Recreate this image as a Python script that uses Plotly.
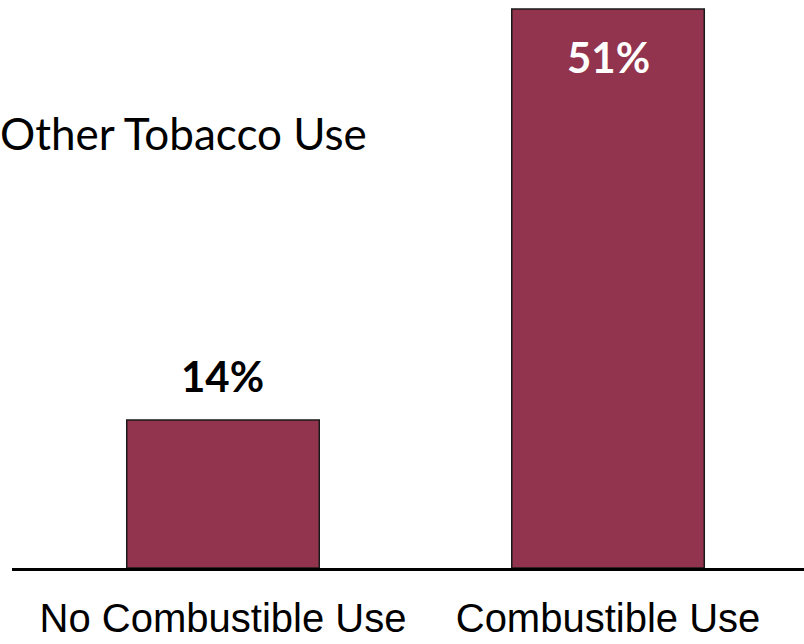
import plotly.graph_objects as go

categories = ["No Combustible Use", "Combustible Use"]
values = [13.6, 51.4]
value_labels = ["14%", "51%"]
title_text = "Other Tobacco Use"

bar_color = "#93344E"

fig = go.Figure()
fig.add_trace(go.Bar(
    x=categories, y=values,
    width=0.5,
    marker=dict(color=bar_color, line=dict(color="#1a1a1a", width=1.5)),
    hoverinfo="skip",
))

fig.add_annotation(x=categories[0], y=values[0], text="<b>" + value_labels[0] + "</b>",
                   showarrow=False, yanchor="bottom", yshift=17,
                   font=dict(family="Lato, Noto Sans, sans-serif", size=42, color="black"))
fig.add_annotation(x=categories[1], y=values[1], text="<b>" + value_labels[1] + "</b>",
                   showarrow=False, yanchor="top", yshift=-21,
                   font=dict(family="Lato, Noto Sans, sans-serif", size=42, color="white"))

fig.update_layout(
    width=804, height=644,
    margin=dict(l=12, r=0, t=0, b=76),
    paper_bgcolor="white", plot_bgcolor="white",
    showlegend=False,
    title=dict(text=title_text, xref="container", yref="container", x=0, xanchor="left",
               y=1 - 135 / 644, yanchor="middle",
               font=dict(family="Lato, Noto Sans, sans-serif", size=44, color="black")),
    xaxis=dict(range=[-0.548, 1.509], showline=True, linecolor="black", linewidth=3,
               showgrid=False, zeroline=False, ticks="", ticklabelstandoff=13,
               tickfont=dict(family="Liberation Sans Narrow, Arial Narrow, sans-serif", size=40, color="black")),
    yaxis=dict(range=[0, 52.23], visible=False, showgrid=False, zeroline=False),
)

fig.write_html("out.html")
